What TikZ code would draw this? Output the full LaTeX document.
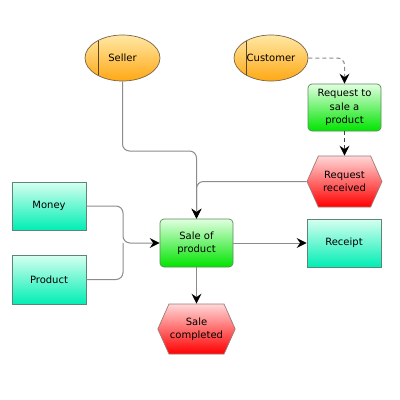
\documentclass[tikz,border=0pt]{standalone}
\usepackage{fontspec}
\setmainfont{DejaVu Sans}
\usetikzlibrary{shapes.geometric,shapes.symbols,arrows.meta}
\definecolor{linegray}{RGB}{140,140,140}
\definecolor{actorline}{RGB}{90,70,40}
\tikzset{
  every node/.style={font=\fontsize{10}{13.3}\selectfont, align=center, inner sep=1pt},
  actor/.style={ellipse, draw={rgb,255:red,120;green,100;blue,70}, line width=0.7pt,
    top color={rgb,255:red,255;green,232;blue,165}, bottom color={rgb,255:red,255;green,168;blue,20},
    minimum width=75pt, minimum height=46pt},
  func/.style={rectangle, rounded corners=4pt, draw={rgb,255:red,90;green,140;blue,90}, line width=0.7pt,
    top color={rgb,255:red,225;green,255;blue,225}, bottom color={rgb,255:red,0;green,228;blue,0},
    minimum width=73pt, minimum height=47pt},
  evt/.style={signal, signal to=west and east, signal pointer angle=132, draw={rgb,255:red,160;green,120;blue,120}, line width=0.7pt,
    top color={rgb,255:red,255;green,215;blue,215}, bottom color={rgb,255:red,255;green,0;blue,0},
    minimum width=75pt, minimum height=51pt},
  info/.style={rectangle, draw={rgb,255:red,90;green,135;blue,120}, line width=0.7pt,
    top color={rgb,255:red,215;green,255;blue,240}, bottom color={rgb,255:red,0;green,238;blue,180},
    minimum width=74pt, minimum height=48pt},
  conn/.style={draw=linegray, line width=1pt, rounded corners=7pt, -{Stealth[length=10pt,width=10pt,inset=3.5pt,color=black]}},
  plainline/.style={draw=linegray, line width=1pt, rounded corners=7pt},
}
\begin{document}
\begin{tikzpicture}[x=1pt,y=-1pt]
\useasboundingbox (0,0) rectangle (400,400);
\fill[white] (0,0) rectangle (400,400);
\node[actor, path picture={\draw[actorline, line width=0.8pt] ([xshift=-24pt]path picture bounding box.north) -- ([xshift=-24pt]path picture bounding box.south);}] (seller) at (122.5,58) {Seller};
\node[actor, minimum width=74pt, path picture={\draw[actorline, line width=0.8pt] ([xshift=-25pt]path picture bounding box.north) -- ([xshift=-25pt]path picture bounding box.south);}] (customer) at (271,58) {Customer};
\node[func] (req) at (344.5,107.5) {Request to\\sale a\\product};
\node[evt] (recv) at (344.5,181.5) {Request\\received};
\node[info] (money) at (49,206) {Money};
\node[info, minimum height=49pt] (product) at (49,279.5) {Product};
\node[func, minimum height=48pt] (sale) at (196.5,243) {Sale of\\product};
\node[info] (receipt) at (344,243) {Receipt};
\node[evt, minimum width=74pt, minimum height=50pt] (done) at (196.5,329) {Sale\\completed};
\coordinate (j) at (123,243);
\draw[conn] (seller.south) -- (seller.south |- 0,151) -- (sale.north |- 0,151) -- (sale.north);
\draw[conn] (recv.west) -| (sale.north);
\draw[conn, dashed, dash pattern=on 4pt off 3pt] (customer.east) -| (req.north);
\draw[conn, draw=black!75, dash pattern=on 4pt off 3pt] (req.south) -- (recv.north);
\draw[conn] (money.east) -| (j) -- (sale.west);
\draw[plainline] (product.east) -| (j);
\draw[conn] (sale.east) -- (receipt.west);
\draw[conn] (sale.south) -- (done.north);
\end{tikzpicture}
\end{document}
